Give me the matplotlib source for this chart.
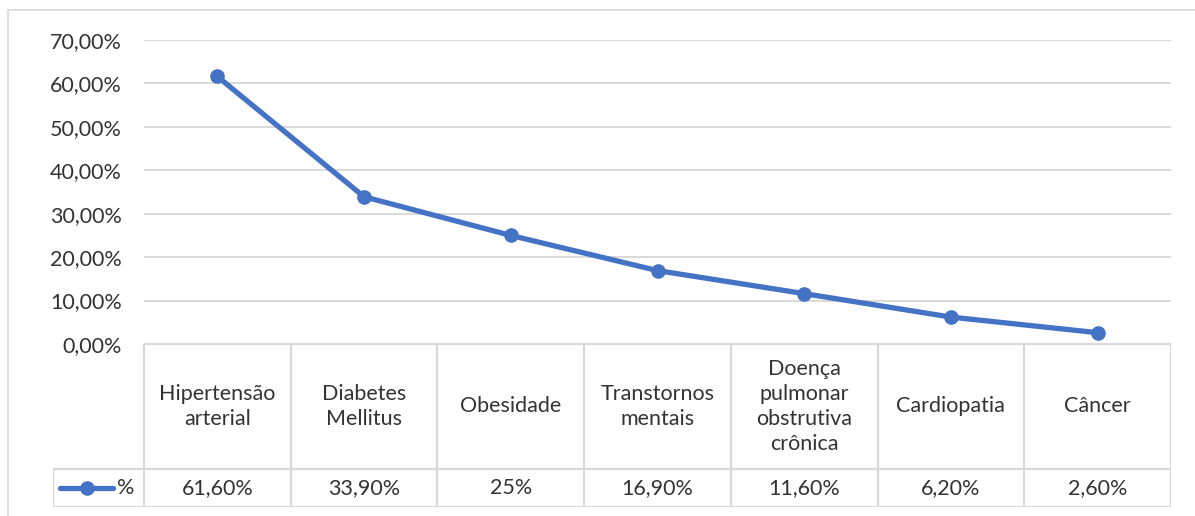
import matplotlib.pyplot as plt
from matplotlib.lines import Line2D
import numpy as np

categories = ['Hipertensão\narterial', 'Diabetes\nMellitus', 'Obesidade',
              'Transtornos\nmentais', 'Doença\npulmonar\nobstrutiva\ncrônica',
              'Cardiopatia', 'Câncer']
values = [61.6, 33.9, 25.0, 16.9, 11.6, 6.2, 2.6]
value_labels = ['61,60%', '33,90%', '25%', '16,90%', '11,60%', '6,20%', '2,60%']
yticks = [0, 10, 20, 30, 40, 50, 60, 70]
series_name = '%'

plt.rcParams['font.family'] = ['Lato', 'DejaVu Sans']
W, H = 1195, 516
blue = '#4472C4'
grid = '#D9D9D9'
txt = '#333333'
fs = 15.5

fig = plt.figure(figsize=(W / 100, H / 100), dpi=100)

# outer chart border
fig.add_artist(plt.Rectangle((8 / W, -0.1), 1.2, 1 - 10 / H + 0.1, transform=fig.transFigure,
                             fill=False, edgecolor=grid, lw=1.2))

# plot area in pixels
x0, x1, ytop, ybot = 144, 1171, 40, 344
ax = fig.add_axes([x0 / W, 1 - ybot / H, (x1 - x0) / W, (ybot - ytop) / H])
n = len(categories)
xs = np.arange(n)
ax.set_xlim(-0.5, n - 0.5)
ax.set_ylim(0, 70)
for y in yticks:
    ax.axhline(y, color=grid, lw=1.4, zorder=1)
ax.plot(xs, values, color=blue, lw=3.8, marker='o', ms=9.5, zorder=3, solid_capstyle='round')
ax.set_yticks(yticks)
ax.set_yticklabels([f'{v},00%' for v in yticks], fontsize=fs, color=txt)
ax.tick_params(axis='y', length=0, pad=16)
ax.set_xticks([])
for s in ax.spines.values():
    s.set_visible(False)
ax.set_clip_on(False)

# data table below the plot
tleft, tbot, rowsplit = 53, 507, 469
tax = fig.add_axes([tleft / W, 1 - tbot / H, (x1 - tleft) / W, (tbot - ybot) / H])
unit = (x1 - x0) / n
xl = -0.5 - (x0 - tleft) / unit
tax.set_xlim(xl, n - 0.5)
tax.set_ylim(0, tbot - ybot)
tax.axis('off')
rs = tbot - rowsplit
top = tbot - ybot
lk = dict(color=grid, lw=1.6, solid_capstyle='projecting')
for i in range(n + 1):
    tax.plot([i - 0.5, i - 0.5], [0, top], **lk)
tax.plot([-0.5, n - 0.5], [top, top], **lk)
tax.plot([xl, n - 0.5], [rs, rs], **lk)
tax.plot([xl, n - 0.5], [0, 0], **lk)
tax.plot([xl, xl], [0, rs], **lk)
for i, c in enumerate(categories):
    tax.text(i, (rs + top) / 2, c, ha='center', va='center', fontsize=fs,
             color=txt, linespacing=1.3)
    tax.text(i, rs / 2, value_labels[i], ha='center', va='center', fontsize=fs, color=txt)

# legend key inside the table
kx0 = xl + (60 - tleft) / unit
kx1 = xl + (113 - tleft) / unit
tax.add_line(Line2D([kx0, kx1], [rs / 2, rs / 2], color=blue, lw=3.8, solid_capstyle='round'))
tax.plot([(kx0 + kx1) / 2], [rs / 2], marker='o', ms=9.5, color=blue)
tax.text(xl + (117 - tleft) / unit, rs / 2, series_name, ha='left', va='center',
         fontsize=fs, color=txt)

fig.savefig('out.png', dpi=100)
